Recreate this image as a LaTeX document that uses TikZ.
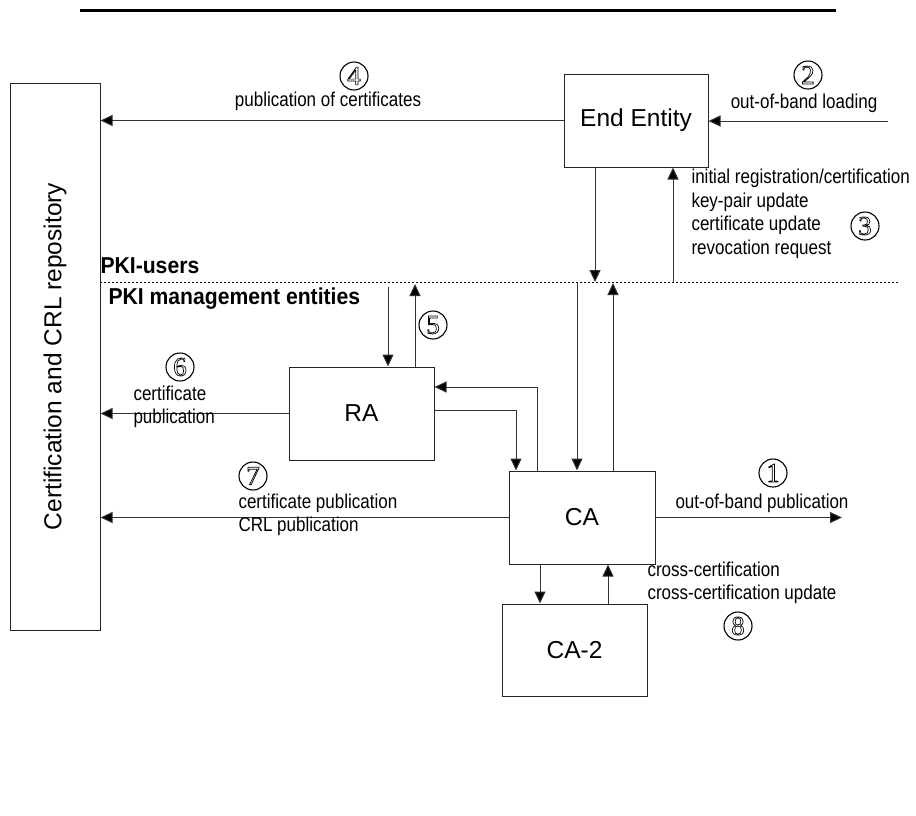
\documentclass[tikz,border=0pt]{standalone}
\usepackage{fontspec}
\setmainfont{Liberation Sans}
\newfontfamily\labfont[FakeStretch=0.85]{Liberation Sans}
\newfontfamily\hdrfont[FakeStretch=0.92]{Liberation Sans}
\newfontfamily\numfont{Liberation Serif}
\usetikzlibrary{arrows.meta}
% hollow (outlined) digit for the step markers
\newcommand{\hollowdigit}[1]{\special{pdf:literal direct 1 Tr 0.7 w}#1\special{pdf:literal direct 0 Tr}}

\begin{document}
\begin{tikzpicture}[x=1pt,y=-1pt,
  line width=1pt,
  boxstyle/.style={draw=black!85, rectangle, line width=1pt, inner sep=0pt,
    font=\fontsize{24.5}{28}\selectfont},
  arr/.style={draw=black!80, line width=1pt, -{Triangle[length=12pt,width=11pt,fill=black]}},
  lab/.style={inner sep=0pt, font=\labfont\fontsize{20}{23.5}\selectfont},
  hdr/.style={inner sep=0pt, anchor=west, font=\hdrfont\fontsize{23}{25}\bfseries\selectfont},
  circnum/.style={circle, draw, line width=1.1pt, inner sep=0pt, minimum size=28pt,
    font=\numfont\fontsize{27}{27}\selectfont}]

\useasboundingbox (0,0) rectangle (916,815);

% top rule
\coordinate (ruleL) at (80,10.5);
\coordinate (ruleR) at (836,10.5);
\draw[line width=2.4pt] (ruleL) -- (ruleR);

% boxes
\node[boxstyle, minimum width=90pt, minimum height=547pt] (repo) at (55,356.5)
  {\rotatebox{90}{Certification and CRL repository}};
\node[boxstyle, minimum width=144pt, minimum height=93pt] (ee) at (636,120.5) {End Entity};
\node[boxstyle, minimum width=145pt, minimum height=93pt] (ra) at (361.5,413.5) {RA};
\node[boxstyle, minimum width=146pt, minimum height=93pt] (ca) at (582,517.5) {CA};
\node[boxstyle, minimum width=145pt, minimum height=92pt] (ca2) at (574.5,650) {CA-2};

% boundary between PKI users and management entities
\coordinate (sepL) at (100,282);
\coordinate (sepR) at (900,282);
\draw[line width=0.9pt, dash pattern=on 2pt off 2pt] (sepL) -- (sepR);
\node[hdr] (users) at (100,266) {PKI-users};
\node[hdr] (mgmt) at (108,299) {PKI management entities};

% crossing points on the boundary
\coordinate (eeDown) at (595,282);
\coordinate (eeUp) at (673,282);
\coordinate (caIn) at (577,282);
\coordinate (caOut) at (613,283);
\coordinate (raIn) at (388,287);
\coordinate (raOut) at (415,284);

% end entity
\coordinate (oobIn) at (888,121);
\draw[arr] (ee.west) -- (ee.west -| repo.east);
\draw[arr] (oobIn) -- (oobIn -| ee.east);
\draw[arr] (ee.south -| eeDown) -- (eeDown);
\draw[arr] (eeUp) -- (ee.south -| eeUp);

% management side
\draw[arr] (caIn) -- (caIn |- ca.north);
\draw[arr] (caOut |- ca.north) -- (caOut);
\draw[arr] (raIn) -- (raIn |- ra.north);
\draw[arr] (raOut |- ra.north) -- (raOut);

\coordinate (caRa) at (537,387);
\coordinate (raCa) at (516,410);
\draw[arr] (caRa |- ca.north) -- (caRa) -- (caRa -| ra.east);
\draw[arr] (raCa -| ra.east) -- (raCa) -- (raCa |- ca.north);

\draw[arr] (ra.west) -- (ra.west -| repo.east);
\draw[arr] (ca.west) -- (ca.west -| repo.east);

\coordinate (oobOut) at (842,518);
\draw[arr] (ca.east) -- (ca.east -| oobOut);

\coordinate (cc1) at (540,584);
\coordinate (cc2) at (608,584);
\draw[arr] (cc1 |- ca.south) -- (cc1 |- ca2.north);
\draw[arr] (cc2 |- ca2.north) -- (cc2 |- ca.south);

% labels
\node[lab] (l4) at (328,101) {publication of certificates};
\node[circnum] (n4) at (354,76) {\hollowdigit{4}};

\node[lab] (l2) at (804,103) {out-of-band loading};
\node[circnum] (n2) at (808,75) {\hollowdigit{2}};

\node[lab, anchor=north west, align=left] (l3) at (691,169)
  {initial registration/certification\\key-pair update\\certificate update\\revocation request};
\node[circnum] (n3) at (865,226) {\hollowdigit{3}};

\node[circnum] (n5) at (433,325) {\hollowdigit{5}};

\node[circnum] (n6) at (180,367) {\hollowdigit{6}};
\node[lab, anchor=north west, align=left] (l6) at (133,385) {certificate\\publication};

\node[circnum] (n7) at (253,476) {\hollowdigit{7}};
\node[lab, anchor=north west, align=left] (l7) at (238,493) {certificate publication\\CRL publication};

\node[circnum] (n1) at (773,473) {\hollowdigit{1}};
\node[lab] (l1) at (762,503) {out-of-band publication};

\node[lab, anchor=north west, align=left] (l8) at (647,561) {cross-certification\\cross-certification update};
\node[circnum] (n8) at (738,626) {\hollowdigit{8}};

\end{tikzpicture}
\end{document}
